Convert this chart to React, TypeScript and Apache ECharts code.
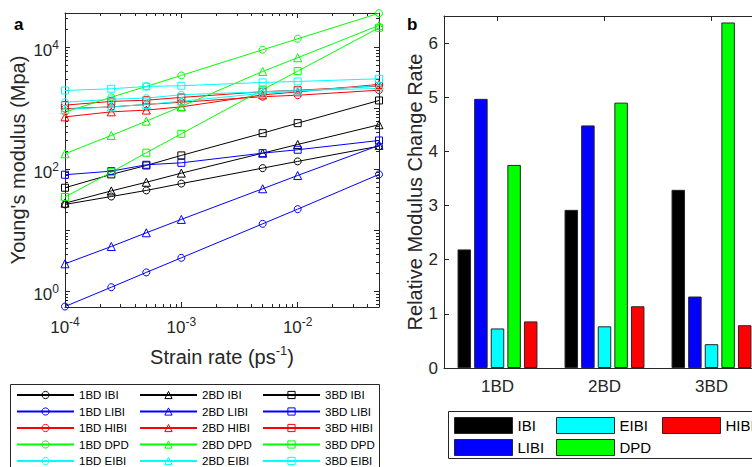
import React, { useEffect, useRef } from 'react';
import * as echarts from 'echarts';

// ---------- data ----------
const strainRates = [1e-4, 2.5e-4, 5e-4, 1e-3, 5e-3, 1e-2, 5e-2];

const ibi1 = [26.4, 35.6, 44.8, 58, 104, 134, 238];
const ibi2 = [27.7, 44, 61, 86, 183, 254, 534];
const ibi3 = [49.6, 82, 115, 168, 389, 568, 1337];
const libi1 = [0.56, 1.16, 2.03, 3.52, 12.7, 22.1, 82];
const libi2 = [2.81, 5.4, 9.06, 15, 47.7, 78.8, 245];
const libi3 = [81, 92.7, 118, 127, 183, 208, 295];
const hibi1 = [980, 1050, 1150, 1250, 1540, 1630, 1970];
const hibi2 = [720, 870, 930, 1050, 1650, 1850, 2450];
const hibi3 = [1120, 1290, 1350, 1500, 1860, 1970, 2300];
const dpd1 = [860, 1510, 2270, 3440, 9060, 13700, 36000];
const dpd2 = [179, 357, 612, 1066, 4000, 6700, 22700];
const dpd3 = [35, 89, 186, 380, 2000, 4040, 20800];
const eibi1 = [1250, 1400, 1460, 1660, 1850, 1950, 2100];
const eibi2 = [950, 1050, 1150, 1300, 1750, 1900, 2350];
const eibi3 = [1950, 2080, 2270, 2330, 2640, 2740, 3030];

const xMajorTicks = [1e-4, 1e-3, 1e-2];
const yMajorTicks = [1, 10, 100, 1000, 10000];
const yLabelTicks = [1, 100, 10000];

const barCategories = ['1BD', '2BD', '3BD'];
const barIBI = [2.19, 2.92, 3.29];
const barLIBI = [4.97, 4.48, 1.32];
const barEIBI = [0.73, 0.77, 0.44];
const barDPD = [3.75, 4.9, 6.38];
const barHIBI = [0.86, 1.14, 0.79];

// ---------- styling ----------
const FONT = '"Liberation Sans", Arial, Helvetica, sans-serif';
const AX = '#262626';
const COLORS: Record<string, string> = {
  IBI: '#000000',
  LIBI: '#0000ff',
  HIBI: '#ff0000',
  DPD: '#00ff00',
  EIBI: '#00ffff',
};

function minorTicks(lo: number, hi: number): number[] {
  const out: number[] = [];
  for (let e = Math.floor(Math.log10(lo)); e <= Math.ceil(Math.log10(hi)); e++) {
    for (let m = 2; m <= 9; m++) {
      const v = m * Math.pow(10, e);
      if (v >= lo * 0.999 && v <= hi * 1.001) out.push(v);
    }
  }
  return out;
}

const lineDefs = [
  { name: '1BD IBI', values: ibi1, kind: 'IBI', symbol: 'circle' },
  { name: '2BD IBI', values: ibi2, kind: 'IBI', symbol: 'triangle' },
  { name: '3BD IBI', values: ibi3, kind: 'IBI', symbol: 'rect' },
  { name: '1BD LIBI', values: libi1, kind: 'LIBI', symbol: 'circle' },
  { name: '2BD LIBI', values: libi2, kind: 'LIBI', symbol: 'triangle' },
  { name: '3BD LIBI', values: libi3, kind: 'LIBI', symbol: 'rect' },
  { name: '1BD HIBI', values: hibi1, kind: 'HIBI', symbol: 'circle' },
  { name: '2BD HIBI', values: hibi2, kind: 'HIBI', symbol: 'triangle' },
  { name: '3BD HIBI', values: hibi3, kind: 'HIBI', symbol: 'rect' },
  { name: '1BD DPD', values: dpd1, kind: 'DPD', symbol: 'circle' },
  { name: '2BD DPD', values: dpd2, kind: 'DPD', symbol: 'triangle' },
  { name: '3BD DPD', values: dpd3, kind: 'DPD', symbol: 'rect' },
  { name: '1BD EIBI', values: eibi1, kind: 'EIBI', symbol: 'circle' },
  { name: '2BD EIBI', values: eibi2, kind: 'EIBI', symbol: 'triangle' },
  { name: '3BD EIBI', values: eibi3, kind: 'EIBI', symbol: 'rect' },
];

const barDefs = [
  { name: 'IBI', values: barIBI },
  { name: 'LIBI', values: barLIBI },
  { name: 'EIBI', values: barEIBI },
  { name: 'DPD', values: barDPD },
  { name: 'HIBI', values: barHIBI },
];

const supRich = {
  m: { fontSize: 17, lineHeight: 17, padding: [6, 0, 0, 0], color: AX, fontFamily: FONT },
  s: { fontSize: 12, lineHeight: 12, verticalAlign: 'top', color: AX, fontFamily: FONT },
};

const powLabel = (v: number) => `{m|10}{s|${Math.round(Math.log10(v))}}`;

export default function App() {
  const ref = useRef<HTMLDivElement>(null);

  useEffect(() => {
    if (!ref.current) return;
    const chart = echarts.init(ref.current, undefined, { renderer: 'svg' });

    const X_MIN = 1e-4, X_MAX = 5e-2, Y_MIN = 0.55, Y_MAX = 36300;
    const xMinor = minorTicks(X_MIN, X_MAX).filter((v) => !xMajorTicks.some((t) => Math.abs(t - v) < 1e-12));
    const yMinor = minorTicks(Y_MIN, Y_MAX);

    const logX = (pos: string, ticks: number[], len: number, withLine: boolean, labels: boolean) => ({
      type: 'log', logBase: 10, gridIndex: 0, min: X_MIN, max: X_MAX, position: pos,
      axisLine: { show: withLine, onZero: false, lineStyle: { color: AX, width: 1 } },
      axisTick: { show: true, inside: true, length: len, customValues: ticks, lineStyle: { color: AX, width: 1 } },
      axisLabel: labels
        ? { show: true, customValues: xMajorTicks, formatter: powLabel, rich: supRich, margin: 9 }
        : { show: false },
      minorTick: { show: false },
      splitLine: { show: false },
    });
    const logY = (pos: string, ticks: number[], len: number, withLine: boolean, labels: boolean) => ({
      type: 'log', logBase: 10, gridIndex: 0, min: Y_MIN, max: Y_MAX, position: pos,
      axisLine: { show: withLine, onZero: false, lineStyle: { color: AX, width: 1 } },
      axisTick: { show: true, inside: true, length: len, customValues: ticks, lineStyle: { color: AX, width: 1 } },
      axisLabel: labels
        ? { show: true, customValues: yLabelTicks, formatter: powLabel, rich: supRich, margin: 6 }
        : { show: false },
      minorTick: { show: false },
      splitLine: { show: false },
    });

    const xAxes: any[] = [
      {
        ...logX('bottom', xMajorTicks, 5, true, true),
        name: '{a|Strain rate (ps}{s|-1}{a|)}',
        nameLocation: 'middle',
        nameGap: 36,
        nameTextStyle: {
          rich: {
            a: { fontSize: 20, lineHeight: 20, padding: [6, 0, 0, 0], color: AX, fontFamily: FONT },
            s: { fontSize: 13, lineHeight: 13, verticalAlign: 'top', color: AX, fontFamily: FONT },
          },
        },
      },
      logX('top', xMajorTicks, 5, true, false),
      logX('bottom', xMinor, 3, false, false),
      logX('top', xMinor, 3, false, false),
      {
        type: 'category', gridIndex: 1, data: barCategories, position: 'bottom',
        axisLine: { show: true, onZero: false, lineStyle: { color: AX, width: 1 } },
        axisTick: { show: true, inside: true, alignWithLabel: true, length: 5, lineStyle: { color: AX } },
        axisLabel: { show: true, fontSize: 17, color: AX, fontFamily: FONT, margin: 10 },
        splitLine: { show: false },
      },
      {
        type: 'category', gridIndex: 1, data: barCategories, position: 'top',
        axisLine: { show: true, onZero: false, lineStyle: { color: AX, width: 1 } },
        axisTick: { show: true, inside: true, alignWithLabel: true, length: 5, lineStyle: { color: AX } },
        axisLabel: { show: false },
        splitLine: { show: false },
      },
    ];

    const yAxes: any[] = [
      {
        ...logY('left', yMajorTicks, 5, true, true),
        name: "Young's modulus (Mpa)",
        nameLocation: 'middle',
        nameGap: 37,
        nameTextStyle: { fontSize: 20, color: AX, fontFamily: FONT },
      },
      logY('right', yMajorTicks, 5, true, false),
      logY('left', yMinor, 3, false, false),
      logY('right', yMinor, 3, false, false),
      {
        type: 'value', gridIndex: 1, min: 0, max: 6.5, interval: 1, position: 'left',
        axisLine: { show: true, onZero: false, lineStyle: { color: AX, width: 1 } },
        axisTick: { show: true, inside: true, length: 5, lineStyle: { color: AX } },
        axisLabel: {
          show: true, fontSize: 17, color: AX, fontFamily: FONT, margin: 6,
          formatter: (v: number) => (Number.isInteger(v) ? String(v) : ''),
        },
        splitLine: { show: false },
        name: 'Relative Modulus Change Rate',
        nameLocation: 'middle',
        nameGap: 17,
        nameTextStyle: { fontSize: 20, color: AX, fontFamily: FONT },
      },
    ];

    const lineSeries = lineDefs.map((d) => ({
      type: 'line',
      name: d.name,
      xAxisIndex: 0,
      yAxisIndex: 0,
      data: strainRates.map((x, i) => [x, d.values[i]]),
      symbol: d.symbol,
      symbolSize: d.symbol === 'triangle' ? 8 : 7,
      showAllSymbol: true,
      lineStyle: { color: COLORS[d.kind], width: 1 },
      itemStyle: { color: 'rgba(255,255,255,0)', borderColor: COLORS[d.kind], borderWidth: 1 },
      emphasis: { disabled: true },
    }));

    const barSeries = barDefs.map((d) => ({
      type: 'bar',
      name: d.name,
      xAxisIndex: 4,
      yAxisIndex: 4,
      data: d.values,
      barWidth: 13.5,
      barGap: '23%',
      itemStyle: { color: COLORS[d.name], borderColor: AX, borderWidth: 1 },
      emphasis: { disabled: true },
    }));

    const lineLegend = (left: number, prefix: string) => ({
      orient: 'vertical',
      left,
      top: 387,
      height: 150,
      padding: 0,
      itemGap: 0.5,
      itemWidth: 57,
      itemHeight: 9,
      selectedMode: false,
      data: ['IBI', 'LIBI', 'HIBI', 'DPD', 'EIBI'].map((k) => `${prefix} ${k}`),
      itemStyle: { borderWidth: 1 },
      textStyle: { fontSize: 11.5, lineHeight: 16, color: '#000', fontFamily: FONT },
    });
    const barLegend = (left: number, names: string[]) => ({
      orient: 'vertical',
      left,
      top: 417,
      height: 100,
      padding: 0,
      itemGap: 5,
      itemWidth: 58,
      itemHeight: 16,
      icon: 'rect',
      selectedMode: false,
      data: names,
      itemStyle: { borderColor: AX, borderWidth: 1 },
      textStyle: { fontSize: 15, color: '#000', fontFamily: FONT },
    });

    chart.setOption({
      animation: false,
      backgroundColor: '#ffffff',
      textStyle: { fontFamily: FONT },
      grid: [
        { left: 65, top: 13, width: 314, height: 294, containLabel: false, outerBoundsMode: 'none' },
        { left: 444, top: 16, width: 321, height: 352, containLabel: false, outerBoundsMode: 'none' },
      ],
      xAxis: xAxes,
      yAxis: yAxes,
      legend: [
        lineLegend(16, '1BD'),
        lineLegend(139, '2BD'),
        lineLegend(262, '3BD'),
        barLegend(454, ['IBI', 'LIBI']),
        barLegend(556, ['EIBI', 'DPD']),
        barLegend(662, ['HIBI']),
      ],
      graphic: [
        {
          type: 'rect', silent: true, z: 0,
          shape: { x: 10.5, y: 384.5, width: 369, height: 100 },
          style: { fill: '#ffffff', stroke: AX, lineWidth: 1 },
        },
        {
          type: 'rect', silent: true, z: 0,
          shape: { x: 448.5, y: 411.5, width: 330, height: 47 },
          style: { fill: '#ffffff', stroke: AX, lineWidth: 1 },
        },
        {
          type: 'text', x: 14, y: 33, silent: true,
          style: { text: 'a', fill: '#000', font: `bold 17px ${FONT}`, align: 'left', verticalAlign: 'bottom' },
        },
        {
          type: 'text', x: 407, y: 33, silent: true,
          style: { text: 'b', fill: '#000', font: `bold 17px ${FONT}`, align: 'left', verticalAlign: 'bottom' },
        },
      ],
      series: [...lineSeries, ...barSeries],
    });

    return () => chart.dispose();
  }, []);

  return (
    <div
      ref={ref}
      style={{ position: 'fixed', left: 0, top: 0, width: 752, height: 467, background: '#fff' }}
    />
  );
}
